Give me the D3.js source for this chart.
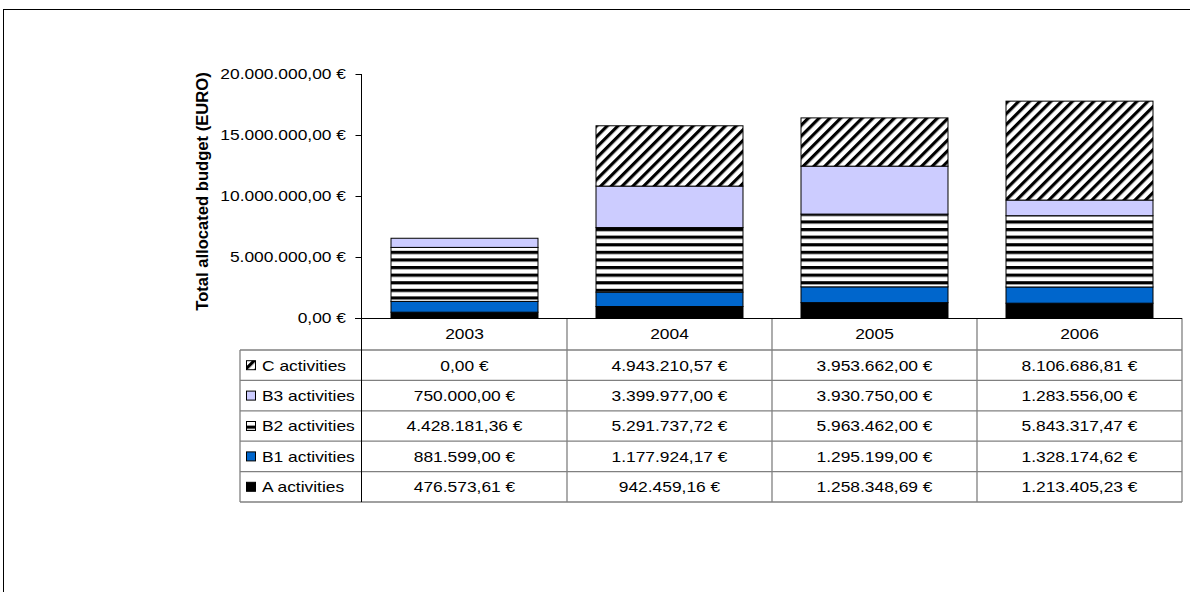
<!DOCTYPE html>
<html>
<head>
<meta charset="utf-8">
<script src="https://cdn.jsdelivr.net/npm/d3@7"></script>
<style>
  body { margin: 0; background: #fff; }
  svg text { font-family: "Liberation Sans", Arial, sans-serif; fill: #000; }
</style>
</head>
<body>
<svg id="chart" width="1190" height="592"></svg>
<script>
// data
var years = ["2003", "2004", "2005", "2006"];
var seriesNames = ["A activities", "B1 activities", "B2 activities", "B3 activities", "C activities"];
var aValues = [476573.61, 942459.16, 1258348.69, 1213405.23];
var b1Values = [881599.00, 1177924.17, 1295199.00, 1328174.62];
var b2Values = [4428181.36, 5291737.72, 5963462.00, 5843317.47];
var b3Values = [750000.00, 3399977.00, 3930750.00, 1283556.00];
var cValues = [0.00, 4943210.57, 3953662.00, 8106686.81];
var yTicks = [0, 5000000, 10000000, 15000000, 20000000];

var allValues = [aValues, b1Values, b2Values, b3Values, cValues];
var fills = ["#000000", "url(#b1)", "url(#b2)", "#ccccff", "url(#cdiag)"];

var svg = d3.select("#chart");
var SX = 1.16; // text in the picture is a bit wide
var FS = 15;

var locale = d3.formatLocale({decimal: ",", thousands: ".", grouping: [3], currency: ["", " €"]});
var fmt = locale.format(",.2f");
function euro(v) { return fmt(v) + " €"; }

function label(x, y, str, anchor, extra) {
    var t = svg.append("text")
        .attr("transform", "translate(" + x + "," + y + ") scale(" + SX + ",1)")
        .attr("text-anchor", anchor || "start")
        .style("font-size", FS + "px")
        .text(str);
    return t;
}

// patterns
var defs = svg.append("defs");
defs.append("pattern").attr("id", "b1").attr("patternUnits", "userSpaceOnUse")
    .attr("width", 8).attr("height", 8)
    .append("rect").attr("width", 8).attr("height", 8).attr("fill", "#0066cc");
var p2 = defs.append("pattern").attr("id", "b2").attr("patternUnits", "userSpaceOnUse")
    .attr("width", 8).attr("height", 7.6);
p2.append("rect").attr("width", 8).attr("height", 7.6).attr("fill", "#fff");
p2.append("rect").attr("width", 8).attr("height", 3.2).attr("fill", "#000");
var pc = defs.append("pattern").attr("id", "cdiag").attr("patternUnits", "userSpaceOnUse")
    .attr("width", 7.6).attr("height", 8).attr("patternTransform", "rotate(45)");
pc.append("rect").attr("width", 7.6).attr("height", 8).attr("fill", "#fff");
pc.append("rect").attr("width", 3.2).attr("height", 8).attr("fill", "#000");

// outer frame
svg.append("rect").attr("x", 3.5).attr("y", 9.5).attr("width", 1300).attr("height", 700)
    .attr("fill", "none").attr("stroke", "#000").attr("stroke-width", 1);

var x = d3.scaleBand().domain(years).range([362, 1182]);
var xBar = d3.scaleBand().domain(years).range([362, 1182]).paddingInner(0.283).paddingOuter(0.1415);
var y = d3.scaleLinear().domain([0, 20000000]).range([318, 74]);

// stacked bars
var table = years.map(function (yr, i) {
    var row = {year: yr};
    seriesNames.forEach(function (s, k) { row[s] = allValues[k][i]; });
    return row;
});
var stacked = d3.stack().keys(seriesNames)(table);

var layers = svg.append("g").selectAll("g").data(stacked).enter().append("g")
    .attr("fill", function (d, k) { return fills[k]; });
layers.selectAll("rect").data(function (d) { return d; }).enter().append("rect")
    .filter(function (d) { return d[1] - d[0] > 0; })
    .attr("x", function (d) { return xBar(d.data.year); })
    .attr("width", xBar.bandwidth())
    .attr("y", function (d) { return y(d[1]); })
    .attr("height", function (d) { return y(d[0]) - y(d[1]); })
    .attr("stroke", "#000").attr("stroke-width", 1);

// y axis
var yAxis = svg.append("g").attr("transform", "translate(361.5,0)")
    .call(d3.axisLeft(y).tickValues(yTicks).tickSize(6).tickFormat(""));
yAxis.select(".domain").attr("d", "M0," + y(20000000) + "V" + y(0));
yAxis.selectAll("line").attr("stroke", "#000");
yTicks.forEach(function (v) { label(346, y(v) + 5.3, euro(v), "end"); });

svg.append("text")
    .attr("transform", "translate(208," + 191.5 + ") rotate(-90)")
    .attr("text-anchor", "middle")
    .style("font-size", "16.6px").style("font-weight", "bold")
    .text("Total allocated budget (EURO)");

// data table under the plot
var rowOrder = seriesNames.slice().reverse();
var rows = d3.scaleBand().domain(rowOrder).range([350, 502]);
var grid = svg.append("g").attr("stroke", "#808080").attr("stroke-width", 1.3);
rowOrder.forEach(function (s) {
    grid.append("line").attr("x1", 240).attr("x2", 1182)
        .attr("y1", rows(s)).attr("y2", rows(s));
});
grid.append("line").attr("x1", 240).attr("x2", 1182).attr("y1", 502).attr("y2", 502);
grid.append("line").attr("x1", 240).attr("x2", 240).attr("y1", 350).attr("y2", 502);
years.slice(1).forEach(function (yr) {
    grid.append("line").attr("x1", x(yr)).attr("x2", x(yr)).attr("y1", 318).attr("y2", 502);
});
grid.append("line").attr("x1", 1182).attr("x2", 1182).attr("y1", 318).attr("y2", 502);
svg.append("line").attr("x1", 361.5).attr("x2", 361.5).attr("y1", 318).attr("y2", 502)
    .attr("stroke", "#000").attr("stroke-width", 1);
svg.append("line").attr("x1", 355).attr("x2", 1182).attr("y1", 318.5).attr("y2", 318.5)
    .attr("stroke", "#000").attr("stroke-width", 1.2);

years.forEach(function (yr) {
    label(x(yr) + x.bandwidth() / 2, 339, yr, "middle");
});
rowOrder.forEach(function (s) {
    var k = seriesNames.indexOf(s);
    var cy = rows(s) + rows.bandwidth() / 2;
    svg.append("rect").attr("x", 246.5).attr("y", cy - 4.5).attr("width", 9).attr("height", 9)
        .attr("fill", fills[k]).attr("stroke", "#000").attr("stroke-width", 1);
    label(262, cy + 5.3, s, "start");
    years.forEach(function (yr, i) {
        label(x(yr) + x.bandwidth() / 2, cy + 5.3, euro(allValues[k][i]), "middle");
    });
});
</script>
</body>
</html>
